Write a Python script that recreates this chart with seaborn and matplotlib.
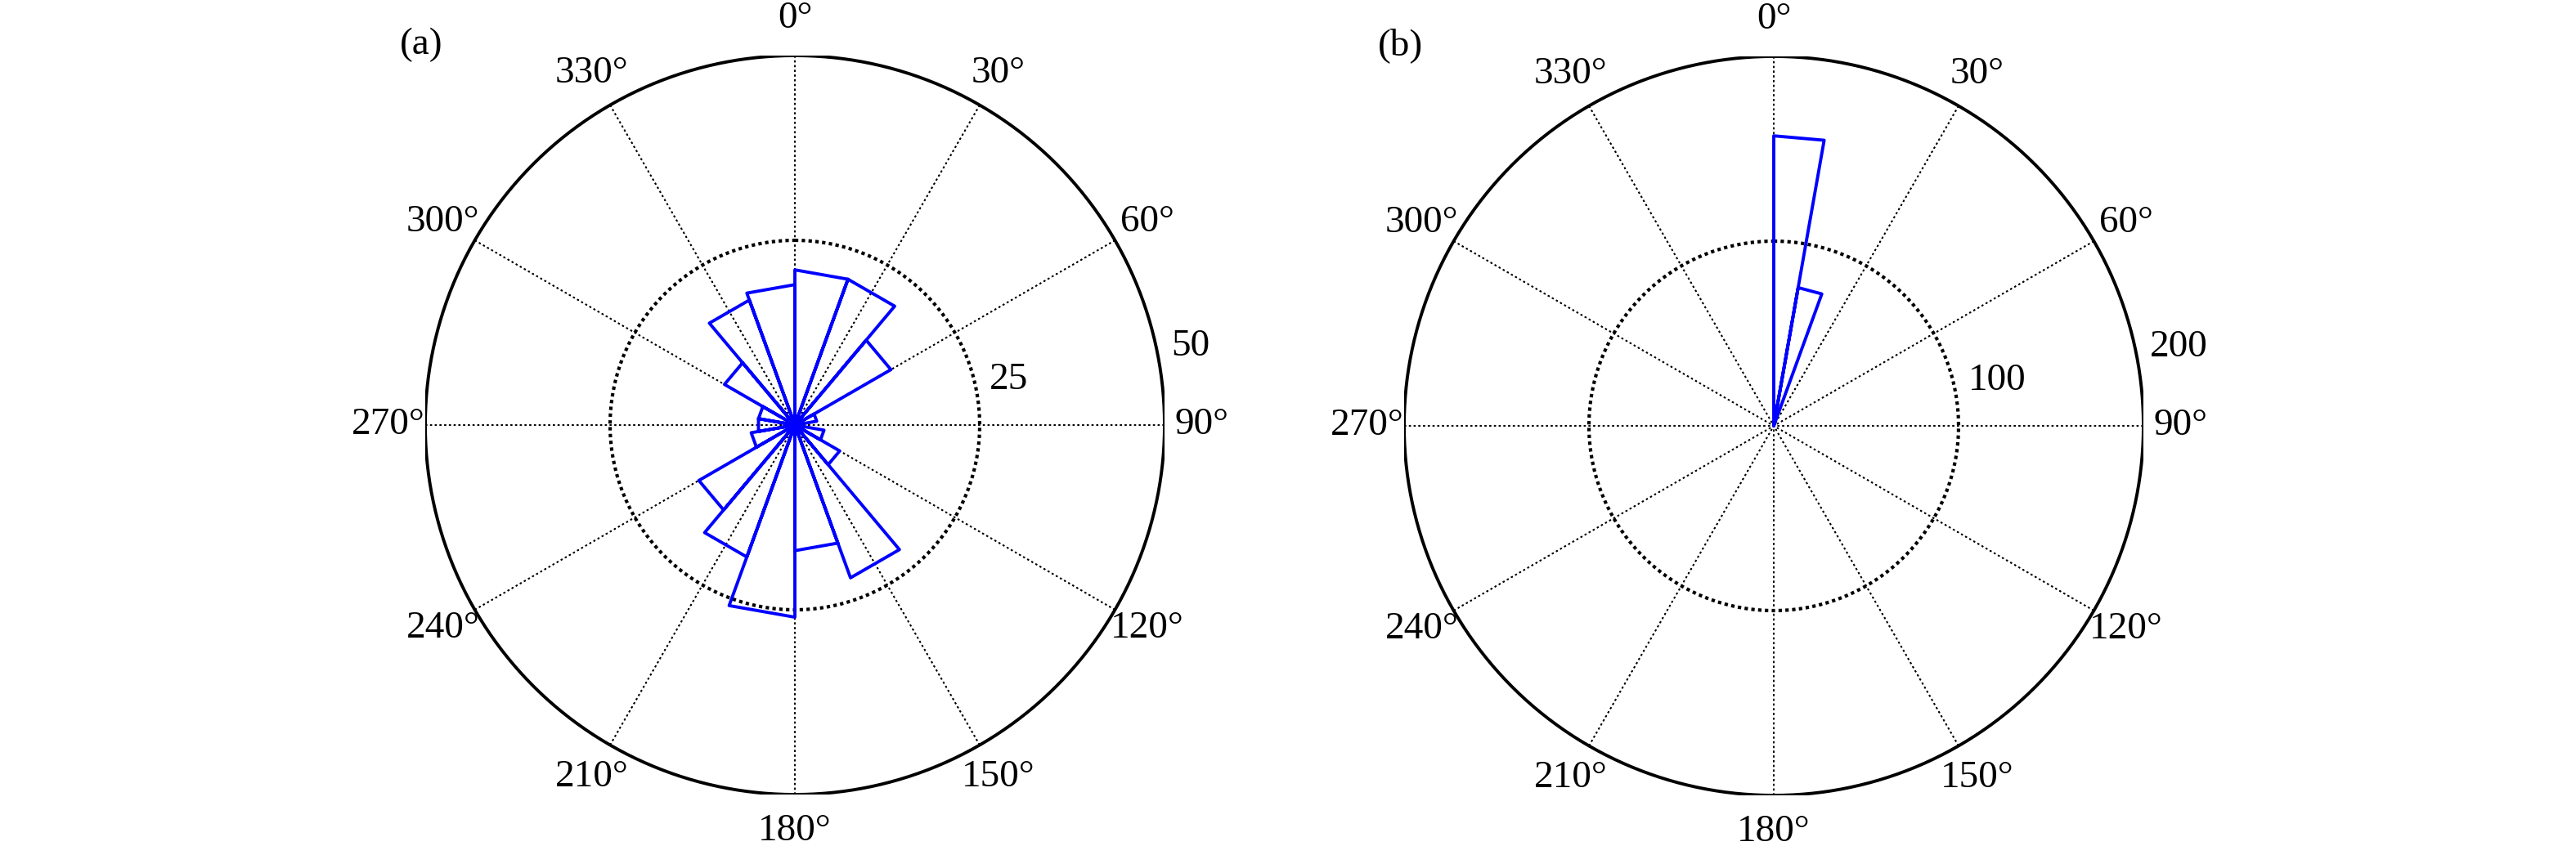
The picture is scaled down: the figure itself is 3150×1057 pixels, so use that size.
import numpy as np
import pandas as pd
import matplotlib
matplotlib.use("Agg")
import matplotlib.pyplot as plt
import seaborn as sns

# rose (a): 20 degree bins, counts
bins_a = [0, 20, 40, 60, 80, 100, 120, 140, 160, 180, 200, 220, 240, 260, 280, 300, 320, 340]
counts_a = [21, 21, 15, 3, 1, 4, 7, 22, 17, 26, 19, 15, 6, 5, 5, 11, 18, 19]
rings_a = [25, 50]

# rose (b): 10 degree bins, only the first two are non-empty
bins_b = [0, 10, 20, 30, 40, 50, 60, 70, 80, 90, 100, 110, 120, 130, 140, 150, 160, 170,
          180, 190, 200, 210, 220, 230, 240, 250, 260, 270, 280, 290, 300, 310, 320, 330, 340, 350]
counts_b = [157, 76, 0, 0, 0, 0, 0, 0, 0, 0, 0, 0, 0, 0, 0, 0, 0, 0,
            0, 0, 0, 0, 0, 0, 0, 0, 0, 0, 0, 0, 0, 0, 0, 0, 0, 0]
rings_b = [100, 200]

angle_ticks = [0, 30, 60, 90, 120, 150, 180, 210, 240, 270, 300, 330]

sns.set_theme(style="white")
plt.rcParams["font.family"] = ["Liberation Serif", "DejaVu Serif"]
plt.rcParams["text.color"] = "black"
FS = 34


def xy(theta_deg, r):
    # compass convention: 0 at top, clockwise
    t = np.deg2rad(theta_deg)
    return r * np.sin(t), r * np.cos(t)


def rose_frame(bins, counts, width):
    xs, ys = [], []
    for a0, c in zip(bins, counts):
        for th, r in [(a0, 0), (a0, c), (a0 + width, c), (a0 + width, 0)]:
            x, y = xy(th, r)
            xs.append(x)
            ys.append(y)
    return pd.DataFrame({"x": xs, "y": ys})


def draw_rose(ax, bins, counts, width, rings, tag):
    rmax = rings[-1]
    phi = np.linspace(0, 360, 721)

    # spokes
    for a in angle_ticks:
        x, y = xy(np.array([a, a + 180]), rmax)
        ax.plot(x, y, color="black", lw=1.3, ls=(0, (1.2, 2.0)), zorder=1)
    # inner ring dotted, outer ring solid
    x, y = xy(phi, rings[0])
    ax.plot(x, y, color="black", lw=3.0, ls=(0, (1, 1.0)), zorder=1)
    x, y = xy(phi, rmax)
    ax.plot(x, y, color="black", lw=2.8, zorder=2)

    df = rose_frame(bins, counts, width)
    sns.lineplot(data=df, x="x", y="y", sort=False, estimator=None, ax=ax,
                 color="#0000ff", lw=2.8, zorder=3)

    for a in angle_ticks:
        x, y = xy(a, 1.1 * rmax)
        ax.text(x, y, f"{a}°", ha="center", va="center", fontsize=FS)
    for v in rings:
        x, y = xy(79.5, v + 0.035 * rmax)
        ax.text(x, y, str(v), ha="left", va="baseline", fontsize=FS)
    ax.text(-1.01 * rmax, 1.03 * rmax, tag, ha="center", va="center", fontsize=FS)

    ax.set_xlim(-rmax, rmax)
    ax.set_ylim(-rmax, rmax)
    ax.set_axis_off()


W, H = 3150, 1057
fig = plt.figure(figsize=(W / 100, H / 100), dpi=100)
R = 452
for cx, cy, bins, counts, width, rings, tag in [
        (972, 520, bins_a, counts_a, 20, rings_a, "(a)"),
        (2169, 521, bins_b, counts_b, 10, rings_b, "(b)")]:
    ax = fig.add_axes([(cx - R) / W, (H - cy - R) / H, 2 * R / W, 2 * R / H])
    draw_rose(ax, bins, counts, width, rings, tag)

fig.savefig("out.png", dpi=100, facecolor="white")
